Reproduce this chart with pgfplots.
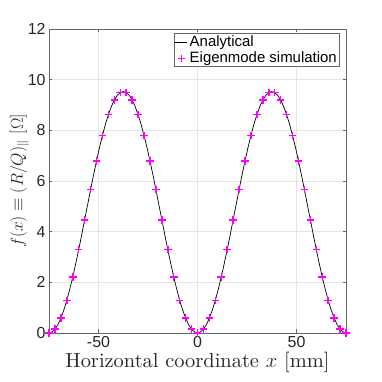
\documentclass[border=0pt]{standalone}
\usepackage{fontspec}
\setmainfont{lmroman10-regular.otf}
\usepackage{pgfplots}
\pgfplotsset{compat=1.18}
\newfontfamily\arial{Liberation Sans}
\definecolor{simmag}{rgb}{1,0,1}
% magenta "+" symbol built from two rules (centred on its reference point)
\newcommand{\plusmark}{{\color{simmag}%
    \makebox[0pt]{\rule[-3.8pt]{1.5pt}{7.6pt}}%
    \makebox[0pt]{\rule[-0.75pt]{7.6pt}{1.5pt}}}}
\pgfplotsset{
    lineleg/.style={legend image code/.code={\draw[##1] (0cm,0cm) -- (0.42cm,0cm);}},
    plusleg/.style={legend image code/.code={
        \node[inner sep=0pt, outer sep=0pt, anchor=center] at (0.21cm,0cm) {\plusmark};}},
}

\begin{document}
\begin{tikzpicture}
\begin{axis}[
    set layers,
    scale only axis,
    width=297bp, height=304bp,
    xmin=-75, xmax=75, ymin=0, ymax=12,
    xtick={-50,0,50}, ytick={0,2,...,12},
    grid=major,
    grid style={black!10, line width=0.5pt},
    axis line style={black!60, line width=0.6pt},
    tick style={black!60, line width=0.6pt},
    tick align=inside,
    major tick length=3.5bp,
    /pgf/number format/assume math mode=true,
    ticklabel style={font=\arial\fontsize{16}{16}\selectfont, text=black!85},
    xlabel={Horizontal coordinate $x$ [mm]},
    ylabel={$f(x)\equiv (R/Q)_{\parallel}$ $[\Omega]$},
    xlabel style={font=\fontsize{20.5}{22}\selectfont, text=black!85, yshift=2bp},
    ylabel style={font=\fontsize{18}{20}\selectfont, text=black!85, yshift=-8bp},
    legend style={at={(rel axis cs:0.98,0.988)}, anchor=north east,
        font=\arial\fontsize{15}{17}\selectfont, draw=black!60, line width=0.6pt,
        inner sep=1pt, row sep=-1pt},
    legend cell align=left,
    clip=false,
]
\addplot[black, line width=0.7pt, no marks, lineleg] coordinates {
(-75,0) (-73.5,0.04) (-72,0.15) (-70.5,0.33) (-69,0.59) (-67.5,0.91)
(-66,1.29) (-64.5,1.73) (-63,2.21) (-61.5,2.74) (-60,3.29) (-58.5,3.87)
(-57,4.47) (-55.5,5.06) (-54,5.66) (-52.5,6.24) (-51,6.79) (-49.5,7.32)
(-48,7.80) (-46.5,8.24) (-45,8.62) (-43.5,8.94) (-42,9.20) (-40.5,9.38)
(-39,9.49) (-37.5,9.53) (-36,9.49) (-34.5,9.38) (-33,9.20) (-31.5,8.94)
(-30,8.62) (-28.5,8.24) (-27,7.80) (-25.5,7.32) (-24,6.79) (-22.5,6.24)
(-21,5.66) (-19.5,5.06) (-18,4.47) (-16.5,3.87) (-15,3.29) (-13.5,2.74)
(-12,2.21) (-10.5,1.73) (-9,1.29) (-7.5,0.91) (-6,0.59) (-4.5,0.33)
(-3,0.15) (-1.5,0.04) (0,0)
(1.5,0.04) (3,0.15) (4.5,0.33) (6,0.59) (7.5,0.91) (9,1.29)
(10.5,1.73) (12,2.21) (13.5,2.74) (15,3.29) (16.5,3.87) (18,4.47)
(19.5,5.06) (21,5.66) (22.5,6.24) (24,6.79) (25.5,7.32) (27,7.80)
(28.5,8.24) (30,8.62) (31.5,8.94) (33,9.20) (34.5,9.38) (36,9.49)
(37.5,9.53) (39,9.49) (40.5,9.38) (42,9.20) (43.5,8.94) (45,8.62)
(46.5,8.24) (48,7.80) (49.5,7.32) (51,6.79) (52.5,6.24) (54,5.66)
(55.5,5.06) (57,4.47) (58.5,3.87) (60,3.29) (61.5,2.74) (63,2.21)
(64.5,1.73) (66,1.29) (67.5,0.91) (69,0.59) (70.5,0.33) (72,0.15)
(73.5,0.04) (75,0)
};
\addlegendentry{Analytical}
% simulation points: a magenta "+" placed at each data point, on the top layer
\addplot[on layer=axis foreground,
    only marks, mark=*, mark size=0pt, mark options={draw=none, fill=none},
    plusleg,
    nodes near coords={\plusmark},
    nodes near coords align={center},
    every node near coord/.append style={inner sep=0pt, outer sep=0pt, anchor=center}]
coordinates {
(-75,0) (-72,0.15) (-69,0.59) (-66,1.29) (-63,2.21) (-60,3.29)
(-57,4.47) (-54,5.66) (-51,6.79) (-48,7.80) (-45,8.62) (-42,9.20)
(-39,9.49) (-36,9.49) (-33,9.20) (-30,8.62) (-27,7.80) (-24,6.79)
(-21,5.66) (-18,4.47) (-15,3.29) (-12,2.21) (-9,1.29) (-6,0.59)
(-3,0.15) (0,0)
(3,0.15) (6,0.59) (9,1.29) (12,2.21) (15,3.29) (18,4.47)
(21,5.66) (24,6.79) (27,7.80) (30,8.62) (33,9.20) (36,9.49)
(39,9.49) (42,9.20) (45,8.62) (48,7.80) (51,6.79) (54,5.66)
(57,4.47) (60,3.29) (63,2.21) (66,1.29) (69,0.59) (72,0.15)
(75,0)
};
\addlegendentry{Eigenmode simulation}
\coordinate (sw) at (rel axis cs:0,0);
\coordinate (ne) at (rel axis cs:1,1);
\end{axis}
\path (sw) ++(-49bp,-49bp) coordinate (bbsw);
\path (ne) ++(36bp,29bp) coordinate (bbne);
\path (bbsw) rectangle (bbne);
\end{tikzpicture}
\end{document}
